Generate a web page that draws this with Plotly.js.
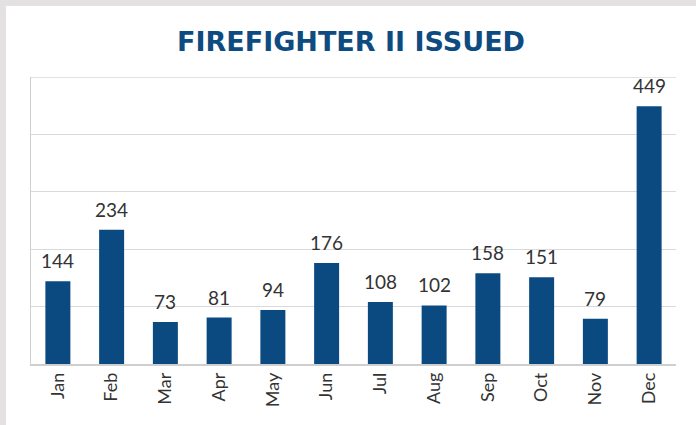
<!DOCTYPE html>
<html>
<head>
<meta charset="utf-8">
<script src="https://cdn.plot.ly/plotly-3.0.1.min.js"></script>
<style>
html,body{margin:0;padding:0;background:#e3e1e1;width:696px;height:425px;overflow:hidden;}
#chart{position:absolute;left:6px;top:6px;width:690px;height:419px;background:#fff;}
</style>
</head>
<body>
<div id="chart"></div>
<script>
const months = ["Jan","Feb","Mar","Apr","May","Jun","Jul","Aug","Sep","Oct","Nov","Dec"];
const issued = [144,234,73,81,94,176,108,102,158,151,79,449];
const titleText = "FIREFIGHTER II ISSUED";

const annotations = months.map((m,i)=>({
  x: m, y: issued[i], xref:'x', yref:'y',
  text: String(issued[i]), showarrow:false,
  yanchor:'bottom', yshift:7,
  font:{family:'Lato, sans-serif', size:19, color:'#333333'}
}));

Plotly.newPlot('chart',[{
  type:'bar', x:months, y:issued,
  marker:{color:'#0b4a80'},
  hoverinfo:'none'
}],{
  width:690, height:419,
  paper_bgcolor:'#ffffff', plot_bgcolor:'#ffffff',
  margin:{l:25,r:20,t:71,b:61},
  title:{text:'<b>'+titleText+'</b>', x:0.5, xanchor:'center', y:0.915, yanchor:'middle',
    font:{family:'"DejaVu Sans", sans-serif', size:27, color:'#0e4b80'}},
  bargap:0.535,
  xaxis:{tickangle:-90, tickfont:{family:'Lato, sans-serif', size:18, color:'#333333'},
    showline:true, linecolor:'#cfcfcf', linewidth:1.5, ticks:'', ticklen:0, showgrid:false, fixedrange:true},
  yaxis:{range:[0,500], dtick:100, showticklabels:false, showgrid:true, gridcolor:'#d9d9d9', gridwidth:1,
    showline:true, linecolor:'#cfcfcf', linewidth:1.5, zeroline:false, ticks:'', fixedrange:true, mirror:false},
  shapes:[{type:'line', xref:'paper', yref:'y', x0:0, x1:1, y0:500, y1:500, line:{color:'#d9d9d9', width:1.5}}],
  annotations:annotations,
  showlegend:false
},{displayModeBar:false, staticPlot:true});
</script>
</body>
</html>
